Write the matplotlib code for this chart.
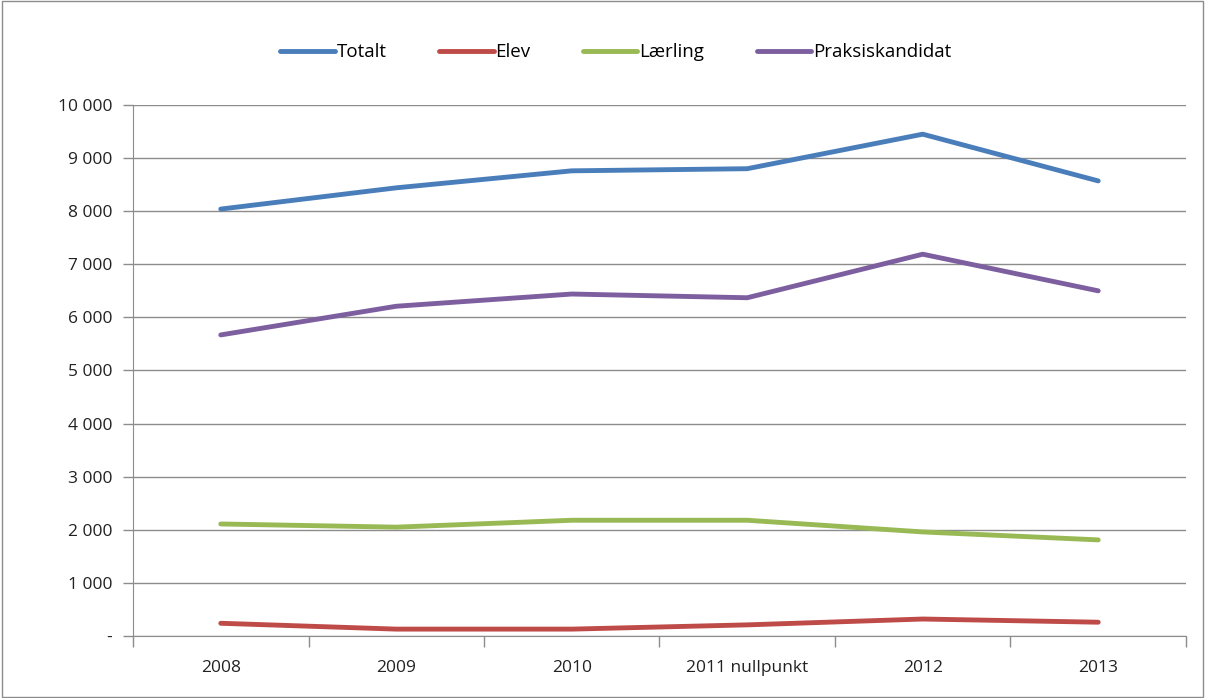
import numpy as np
import matplotlib.pyplot as plt
from matplotlib.ticker import FuncFormatter, FixedLocator

plt.rcParams['font.family'] = ['Open Sans', 'DejaVu Sans']

years = ["2008", "2009", "2010", "2011 nullpunkt", "2012", "2013"]
totalt = [8040, 8440, 8760, 8800, 9450, 8570]
elev = [240, 130, 130, 210, 320, 260]
laerling = [2110, 2050, 2180, 2180, 1960, 1810]
praksis = [5670, 6210, 6440, 6370, 7190, 6500]

series = [
    ("Totalt", totalt, "#4a7ebb"),
    ("Elev", elev, "#be4b48"),
    ("Lærling", laerling, "#98b954"),
    ("Praksiskandidat", praksis, "#7d5fa0"),
]

fig = plt.figure(figsize=(12.05, 6.98), dpi=100)
ax = fig.add_axes([0.1104, 0.0888, 0.8738, 0.7608])

x = np.arange(len(years))
for name, vals, col in series:
    ax.plot(x, vals, color=col, lw=3.5, label=name, solid_capstyle='round')

ax.set_xlim(-0.5, len(years) - 0.5)
ax.set_ylim(0, 10000)
ax.set_yticks(np.arange(0, 10001, 1000))
ax.yaxis.set_major_formatter(FuncFormatter(
    lambda v, p: "-" if v == 0 else f"{int(v):,}".replace(",", " ")))
ax.grid(axis='y', color='#8c8c8c', lw=1)
ax.set_axisbelow(True)

ax.set_xticks(x)
ax.set_xticklabels(years)
ax.tick_params(axis='x', which='major', length=0, pad=17)
ax.xaxis.set_minor_locator(FixedLocator(np.arange(-0.5, len(years), 1)))
ax.tick_params(axis='x', which='minor', length=8, color='#8c8c8c', width=1)
ax.tick_params(axis='y', length=7, color='#8c8c8c', width=1, pad=8)
ax.tick_params(labelsize=12.5, labelcolor='#222222')

for s in ['top', 'right']:
    ax.spines[s].set_visible(False)
for s in ['left', 'bottom']:
    ax.spines[s].set_color('#8c8c8c')

fig.legend(loc='center', bbox_to_anchor=(0.511, 0.925), ncol=4, frameon=False,
           fontsize=13.5, handlelength=2.9, handletextpad=0.1, columnspacing=2.8)

fig.patches.append(plt.Rectangle((0.002, 0.002), 0.996, 0.996, transform=fig.transFigure,
                                 fill=False, edgecolor='#8c8c8c', lw=1))

fig.savefig("out.png", dpi=100)
